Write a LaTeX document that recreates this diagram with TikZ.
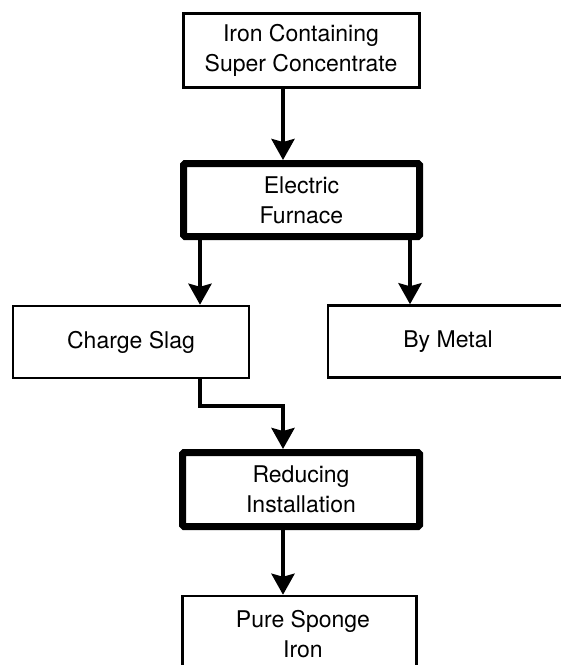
\documentclass[tikz,border=0pt]{standalone}
\usepackage{fontspec}
\setmainfont{TeX Gyre Heros}
\usetikzlibrary{arrows.meta}
\begin{document}
\begin{tikzpicture}[x=1pt,y=-1pt,
 box/.style={draw, line width=2.5pt, minimum width=236pt, align=center, font=\fontsize{23}{30}\selectfont, inner sep=0pt},
 thickbox/.style={box, line width=7pt, rounded corners=1.5pt},
 txt/.style={align=center, font=\fontsize{23}{30}\selectfont, inner sep=0pt},
 arr/.style={line width=4pt, -{Stealth[length=21pt,width=23pt,inset=3pt]}}]
\useasboundingbox (0,0) rectangle (561,665);
\node[box, line width=3pt, minimum width=236pt, minimum height=74pt] (top) at (301,50.5) {Iron Containing\\Super Concentrate};
\node[thickbox, minimum width=236pt, minimum height=73pt] (furn) at (301.5,200) {Electric\\Furnace};
\node[box, minimum width=236pt, minimum height=72pt] (charge) at (131,342) {Charge Slag};
\node[box, minimum width=240pt, minimum height=72pt] (bymetal) at (448,341.5) {By Metal};
\node[thickbox, minimum width=237pt, minimum height=74pt] (red) at (301,489.5) {Reducing\\Installation};
\node[box, minimum width=234pt, minimum height=110pt] (pure) at (299.5,651) {};
\node[txt] (puretext) at (303,634) {Pure Sponge\\Iron};
\coordinate (xa) at (200,0);
\coordinate (xb) at (283,0);
\coordinate (xc) at (410,0);
\draw[arr] (top.south -| xb) -- (furn.north -| xb);
\draw[arr] (furn.south -| xa) -- (charge.north -| xa);
\draw[arr] (furn.south -| xc) -- (bymetal.north -| xc);
\draw[arr] (charge.south -| xa) -- ++(0,27) -| (red.north -| xb);
\draw[arr] (red.south -| xb) -- (pure.north -| xb);
\end{tikzpicture}
\end{document}
